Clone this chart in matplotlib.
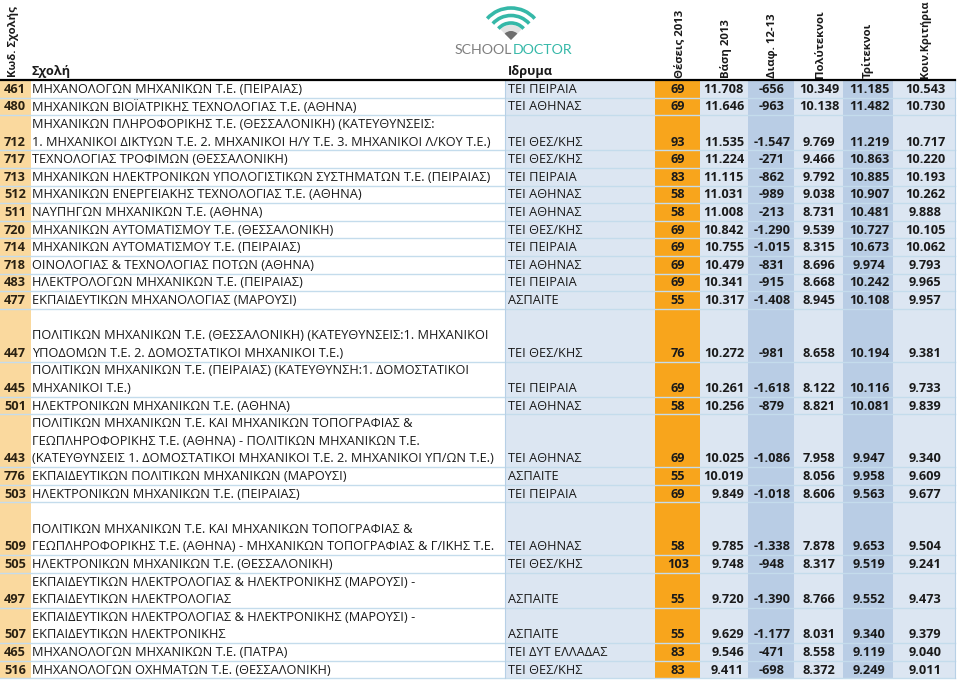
import matplotlib
matplotlib.use("Agg")
import matplotlib.pyplot as plt
from matplotlib.patches import Rectangle, Arc, Wedge

# ---- datos de la tabla ----
codes = [461, 480, 712, 717, 713, 512, 511, 720, 714, 718, 483, 477,
         447, 445, 501, 443, 776, 503, 509, 505, 497, 507, 465, 516]
schools = [
    "ΜΗΧΑΝΟΛΟΓΩΝ ΜΗΧΑΝΙΚΩΝ Τ.Ε. (ΠΕΙΡΑΙΑΣ)",
    "ΜΗΧΑΝΙΚΩΝ ΒΙΟΪΑΤΡΙΚΗΣ ΤΕΧΝΟΛΟΓΙΑΣ Τ.Ε. (ΑΘΗΝΑ)",
    "ΜΗΧΑΝΙΚΩΝ ΠΛΗΡΟΦΟΡΙΚΗΣ Τ.Ε. (ΘΕΣΣΑΛΟΝΙΚΗ) (ΚΑΤΕΥΘΥΝΣΕΙΣ:\n"
    "1. ΜΗΧΑΝΙΚΟΙ ΔΙΚΤΥΩΝ Τ.Ε. 2. ΜΗΧΑΝΙΚΟΙ Η/Υ Τ.Ε. 3. ΜΗΧΑΝΙΚΟΙ Λ/ΚΟΥ Τ.Ε.)",
    "ΤΕΧΝΟΛΟΓΙΑΣ ΤΡΟΦΙΜΩΝ (ΘΕΣΣΑΛΟΝΙΚΗ)",
    "ΜΗΧΑΝΙΚΩΝ ΗΛΕΚΤΡΟΝΙΚΩΝ ΥΠΟΛΟΓΙΣΤΙΚΩΝ ΣΥΣΤΗΜΑΤΩΝ Τ.Ε. (ΠΕΙΡΑΙΑΣ)",
    "ΜΗΧΑΝΙΚΩΝ ΕΝΕΡΓΕΙΑΚΗΣ ΤΕΧΝΟΛΟΓΙΑΣ Τ.Ε. (ΑΘΗΝΑ)",
    "ΝΑΥΠΗΓΩΝ ΜΗΧΑΝΙΚΩΝ Τ.Ε. (ΑΘΗΝΑ)",
    "ΜΗΧΑΝΙΚΩΝ ΑΥΤΟΜΑΤΙΣΜΟΥ Τ.Ε. (ΘΕΣΣΑΛΟΝΙΚΗ)",
    "ΜΗΧΑΝΙΚΩΝ ΑΥΤΟΜΑΤΙΣΜΟΥ Τ.Ε. (ΠΕΙΡΑΙΑΣ)",
    "ΟΙΝΟΛΟΓΙΑΣ & ΤΕΧΝΟΛΟΓΙΑΣ ΠΟΤΩΝ (ΑΘΗΝΑ)",
    "ΗΛΕΚΤΡΟΛΟΓΩΝ ΜΗΧΑΝΙΚΩΝ Τ.Ε. (ΠΕΙΡΑΙΑΣ)",
    "ΕΚΠΑΙΔΕΥΤΙΚΩΝ ΜΗΧΑΝΟΛΟΓΙΑΣ (ΜΑΡΟΥΣΙ)",
    "\nΠΟΛΙΤΙΚΩΝ ΜΗΧΑΝΙΚΩΝ Τ.Ε. (ΘΕΣΣΑΛΟΝΙΚΗ) (ΚΑΤΕΥΘΥΝΣΕΙΣ:1. ΜΗΧΑΝΙΚΟΙ\n"
    "ΥΠΟΔΟΜΩΝ Τ.Ε. 2. ΔΟΜΟΣΤΑΤΙΚΟΙ ΜΗΧΑΝΙΚΟΙ Τ.Ε.)",
    "ΠΟΛΙΤΙΚΩΝ ΜΗΧΑΝΙΚΩΝ Τ.Ε. (ΠΕΙΡΑΙΑΣ) (ΚΑΤΕΥΘΥΝΣΗ:1. ΔΟΜΟΣΤΑΤΙΚΟΙ\n"
    "ΜΗΧΑΝΙΚΟΙ Τ.Ε.)",
    "ΗΛΕΚΤΡΟΝΙΚΩΝ ΜΗΧΑΝΙΚΩΝ Τ.Ε. (ΑΘΗΝΑ)",
    "ΠΟΛΙΤΙΚΩΝ ΜΗΧΑΝΙΚΩΝ Τ.Ε. ΚΑΙ ΜΗΧΑΝΙΚΩΝ ΤΟΠΟΓΡΑΦΙΑΣ &\n"
    "ΓΕΩΠΛΗΡΟΦΟΡΙΚΗΣ Τ.Ε. (ΑΘΗΝΑ) - ΠΟΛΙΤΙΚΩΝ ΜΗΧΑΝΙΚΩΝ Τ.Ε.\n"
    "(ΚΑΤΕΥΘΥΝΣΕΙΣ 1. ΔΟΜΟΣΤΑΤΙΚΟΙ ΜΗΧΑΝΙΚΟΙ Τ.Ε. 2. ΜΗΧΑΝΙΚΟΙ ΥΠ/ΩΝ Τ.Ε.)",
    "ΕΚΠΑΙΔΕΥΤΙΚΩΝ ΠΟΛΙΤΙΚΩΝ ΜΗΧΑΝΙΚΩΝ (ΜΑΡΟΥΣΙ)",
    "ΗΛΕΚΤΡΟΝΙΚΩΝ ΜΗΧΑΝΙΚΩΝ Τ.Ε. (ΠΕΙΡΑΙΑΣ)",
    "\nΠΟΛΙΤΙΚΩΝ ΜΗΧΑΝΙΚΩΝ Τ.Ε. ΚΑΙ ΜΗΧΑΝΙΚΩΝ ΤΟΠΟΓΡΑΦΙΑΣ &\n"
    "ΓΕΩΠΛΗΡΟΦΟΡΙΚΗΣ Τ.Ε. (ΑΘΗΝΑ) - ΜΗΧΑΝΙΚΩΝ ΤΟΠΟΓΡΑΦΙΑΣ & Γ/ΙΚΗΣ Τ.Ε.",
    "ΗΛΕΚΤΡΟΝΙΚΩΝ ΜΗΧΑΝΙΚΩΝ Τ.Ε. (ΘΕΣΣΑΛΟΝΙΚΗ)",
    "ΕΚΠΑΙΔΕΥΤΙΚΩΝ ΗΛΕΚΤΡΟΛΟΓΙΑΣ & ΗΛΕΚΤΡΟΝΙΚΗΣ (ΜΑΡΟΥΣΙ) -\n"
    "ΕΚΠΑΙΔΕΥΤΙΚΩΝ ΗΛΕΚΤΡΟΛΟΓΙΑΣ",
    "ΕΚΠΑΙΔΕΥΤΙΚΩΝ ΗΛΕΚΤΡΟΛΟΓΙΑΣ & ΗΛΕΚΤΡΟΝΙΚΗΣ (ΜΑΡΟΥΣΙ) -\n"
    "ΕΚΠΑΙΔΕΥΤΙΚΩΝ ΗΛΕΚΤΡΟΝΙΚΗΣ",
    "ΜΗΧΑΝΟΛΟΓΩΝ ΜΗΧΑΝΙΚΩΝ Τ.Ε. (ΠΑΤΡΑ)",
    "ΜΗΧΑΝΟΛΟΓΩΝ ΟΧΗΜΑΤΩΝ Τ.Ε. (ΘΕΣΣΑΛΟΝΙΚΗ)",
]
institutions = ["ΤΕΙ ΠΕΙΡΑΙΑ", "ΤΕΙ ΑΘΗΝΑΣ", "ΤΕΙ ΘΕΣ/ΚΗΣ", "ΤΕΙ ΘΕΣ/ΚΗΣ", "ΤΕΙ ΠΕΙΡΑΙΑ",
                "ΤΕΙ ΑΘΗΝΑΣ", "ΤΕΙ ΑΘΗΝΑΣ", "ΤΕΙ ΘΕΣ/ΚΗΣ", "ΤΕΙ ΠΕΙΡΑΙΑ", "ΤΕΙ ΑΘΗΝΑΣ",
                "ΤΕΙ ΠΕΙΡΑΙΑ", "ΑΣΠΑΙΤΕ", "ΤΕΙ ΘΕΣ/ΚΗΣ", "ΤΕΙ ΠΕΙΡΑΙΑ", "ΤΕΙ ΑΘΗΝΑΣ",
                "ΤΕΙ ΑΘΗΝΑΣ", "ΑΣΠΑΙΤΕ", "ΤΕΙ ΠΕΙΡΑΙΑ", "ΤΕΙ ΑΘΗΝΑΣ", "ΤΕΙ ΘΕΣ/ΚΗΣ",
                "ΑΣΠΑΙΤΕ", "ΑΣΠΑΙΤΕ", "ΤΕΙ ΔΥΤ ΕΛΛΑΔΑΣ", "ΤΕΙ ΘΕΣ/ΚΗΣ"]
seats = [69, 69, 93, 69, 83, 58, 58, 69, 69, 69, 69, 55,
         76, 69, 58, 69, 55, 69, 58, 103, 55, 55, 83, 83]
base = [11708, 11646, 11535, 11224, 11115, 11031, 11008, 10842, 10755, 10479, 10341, 10317,
        10272, 10261, 10256, 10025, 10019, 9849, 9785, 9748, 9720, 9629, 9546, 9411]
diff = [-656, -963, -1547, -271, -862, -989, -213, -1290, -1015, -831, -915, -1408,
        -981, -1618, -879, -1086, None, -1018, -1338, -948, -1390, -1177, -471, -698]
polyteknoi = [10349, 10138, 9769, 9466, 9792, 9038, 8731, 9539, 8315, 8696, 8668, 8945,
              8658, 8122, 8821, 7958, 8056, 8606, 7878, 8317, 8766, 8031, 8558, 8372]
triteknoi = [11185, 11482, 11219, 10863, 10885, 10907, 10481, 10727, 10673, 9974, 10242, 10108,
             10194, 10116, 10081, 9947, 9958, 9563, 9653, 9519, 9552, 9340, 9119, 9249]
koin = [10543, 10730, 10717, 10220, 10193, 10262, 9888, 10105, 10062, 9793, 9965, 9957,
        9381, 9733, 9839, 9340, 9609, 9677, 9504, 9241, 9473, 9379, 9040, 9011]

rot_headers = ["Θέσεις 2013", "Βάση 2013", "Διαφ. 12-13", "Πολύτεκνοι", "Τρίτεκνοι", "Κοιν.Κριτήρια"]

# ---- layout (pixeles) ----
W, H = 959, 681
TOP, LH = 80, 17.6
FONT = "Open Sans"
FS = 9.2
TXT = "#1a1a1a"
# (x0, x1, color de fondo)
cols = [(0, 31, "#FAD99E"), (31, 505, "white"), (505, 655, "#DCE6F2"), (655, 700, "#F8A51C"),
        (700, 748, "#DCE6F2"), (748, 794, "#B9CDE5"), (794, 843, "#DCE6F2"),
        (843, 893, "#B9CDE5"), (893, 955, "#DCE6F2")]


def fmt(v):
    if v is None:
        return ""
    s = "{:,}".format(abs(v)).replace(",", ".")
    return ("-" if v < 0 else "") + s


nlines = [s.count("\n") + 1 for s in schools]
total = sum(nlines)
bottom_tab = TOP + total * LH

fig = plt.figure(figsize=(W / 100, H / 100), dpi=100)
ax = fig.add_axes([0, 0, 1, 1])
ax.set_xlim(0, W); ax.set_ylim(H, 0); ax.axis("off")

for x0, x1, c in cols:
    ax.add_patch(Rectangle((x0, TOP), x1 - x0, bottom_tab - TOP, facecolor=c, edgecolor="none", zorder=0))

# filas
y = TOP
for i in range(len(codes)):
    n = nlines[i]
    yb = y + n * LH
    ax.plot([0, 955], [yb, yb], color="#C4DCEC", lw=1.0, zorder=1)
    yc = yb - LH / 2 + 0.5
    kw = dict(va="center", fontsize=FS, family=FONT, color=TXT, zorder=3)
    ax.text(15, yc, str(codes[i]), ha="center", va="center", fontsize=FS, family=FONT,
            fontweight="bold", color="#2a2112", zorder=3)
    for j, line in enumerate(reversed(schools[i].split("\n"))):
        ax.text(32, yc - j * LH, line, ha="left", **kw)
    ax.text(508, yc, institutions[i], ha="left", **kw)
    ax.text(678, yc, str(seats[i]), ha="center", fontweight="bold", **kw)
    ax.text(744, yc, fmt(base[i]), ha="right", fontweight="bold", **kw)
    ax.text(772, yc, fmt(diff[i]), ha="center", fontweight="bold", **kw)
    ax.text(819, yc, fmt(polyteknoi[i]), ha="center", fontweight="bold", **kw)
    ax.text(869, yc, fmt(triteknoi[i]), ha="center", fontweight="bold", **kw)
    ax.text(925, yc, fmt(koin[i]), ha="center", fontweight="bold", **kw)
    y = yb

ax.plot([505, 505], [TOP, bottom_tab], color="#B7D0E6", lw=0.8, zorder=1)
ax.plot([955, 955], [TOP, bottom_tab], color="#B7D0E6", lw=0.8, zorder=1)

# cabecera
ax.plot([0, 955], [TOP, TOP], color="black", lw=1.6, zorder=4)
hk = dict(family=FONT, fontweight="bold", color=TXT)
ax.text(13, 77, "Κωδ. Σχολής", rotation=90, ha="center", va="bottom", fontsize=8.2, **hk)
ax.text(32, 72, "Σχολή", ha="left", va="center", fontsize=FS, **hk)
ax.text(508, 72, "Ιδρυμα", ha="left", va="center", fontsize=FS, **hk)
for x, lab in zip([680, 726, 772, 820, 868, 925], rot_headers):
    ax.text(x, 78, lab, rotation=90, ha="center", va="bottom",
            fontsize=7.8 if len(lab) > 12 else 8.2, **hk)

# logo
TEAL = "#35B8A8"
cx, cy = 511, 40
ax.add_patch(Wedge((cx, cy), 15, 225, 315, facecolor="#E2E2E2", edgecolor="none"))
ax.add_patch(Wedge((cx, cy), 9, 225, 315, facecolor="#6E6E6E", edgecolor="none"))
for r in (17, 24.5, 32):
    ax.add_patch(Arc((cx, cy), 2 * r, 2 * r, theta1=222, theta2=318, color=TEAL, lw=2.6))
t1 = ax.text(455, 50, "SCHOOL", ha="left", va="center", fontsize=10.2, family="Lato", color="#7F7F7F")
ax.annotate("DOCTOR", xy=(1, 0.5), xycoords=t1, ha="left", va="center",
            fontsize=10.2, family="Lato", color=TEAL)

fig.savefig("out.png", dpi=100)
